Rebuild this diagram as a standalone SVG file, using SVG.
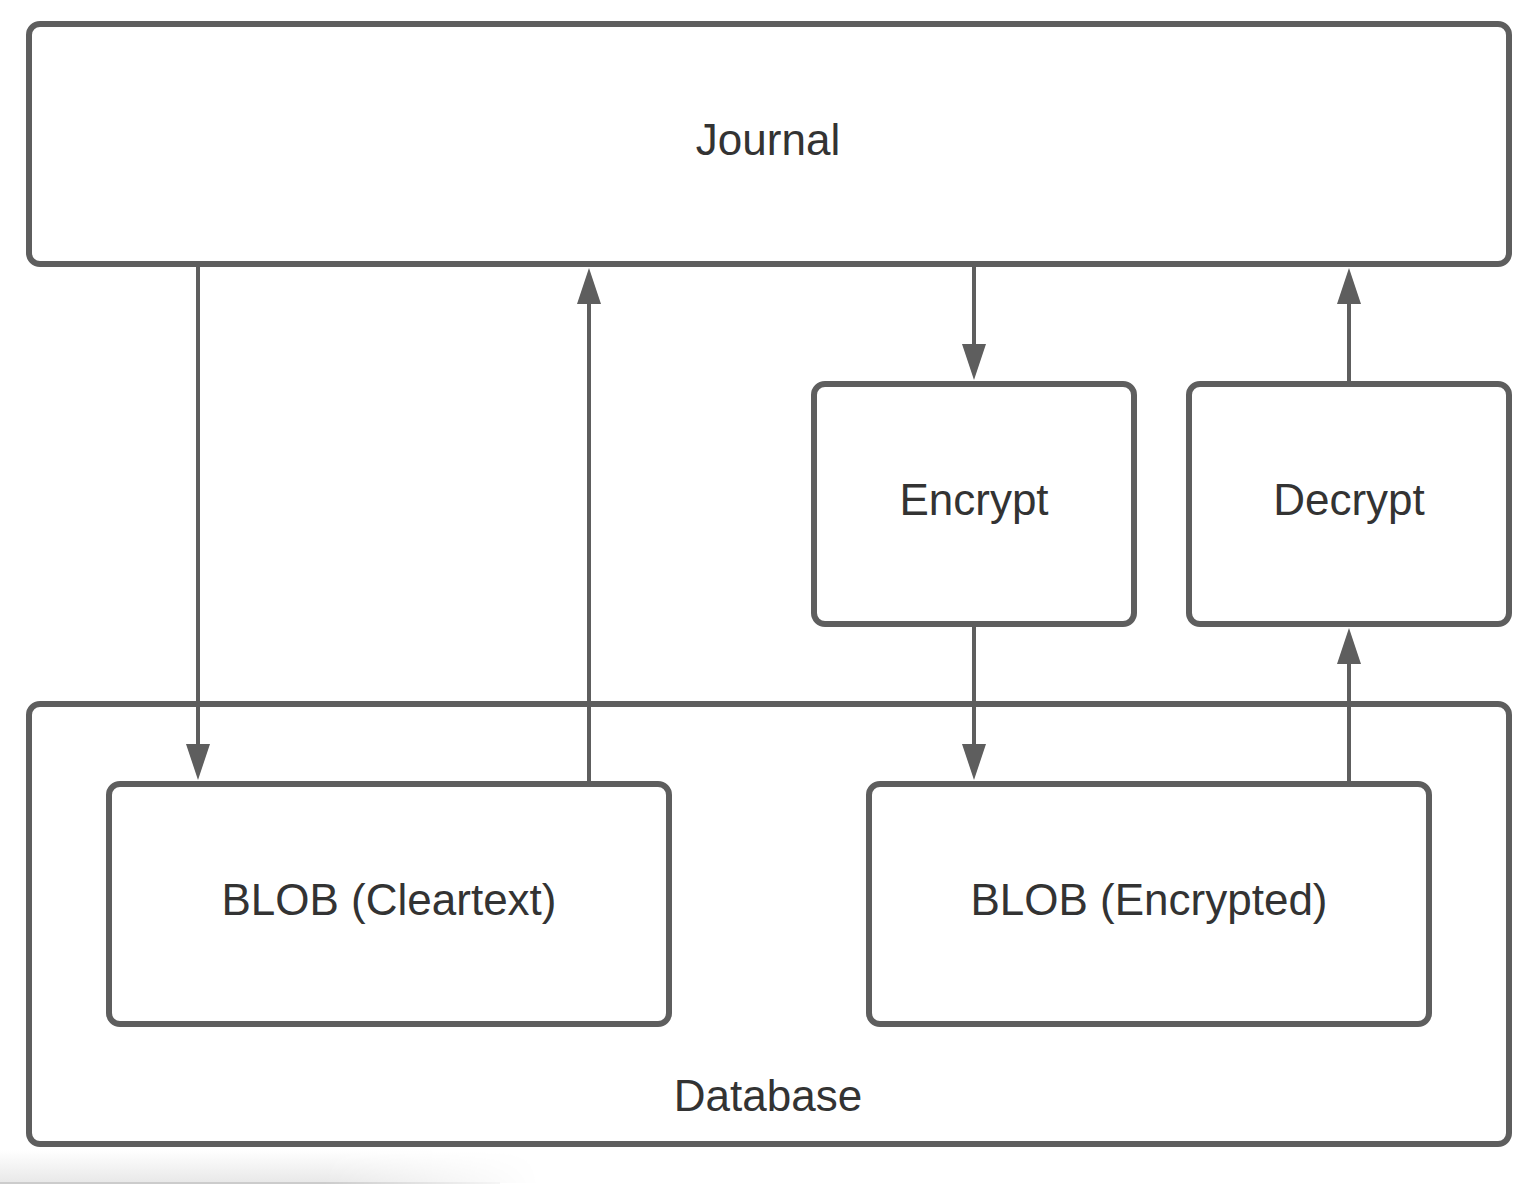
<svg xmlns="http://www.w3.org/2000/svg" width="1526" height="1184" viewBox="0 0 1526 1184">
  <style>
    .box { fill: #ffffff; stroke: #5e5e5e; stroke-width: 6; }
    .lbl { font-family: "Liberation Sans", Arial, sans-serif; font-size: 44px; fill: #333333; text-anchor: middle; }
    .conn { fill: none; stroke: #5e5e5e; stroke-width: 4; marker-end: url(#arrow); }
  </style>
  <defs>
    <marker id="arrow" markerUnits="userSpaceOnUse" markerWidth="37" markerHeight="25" refX="0" refY="12" orient="auto">
      <path d="M0,0 L36,12 L0,24 Z" fill="#5e5e5e"/>
    </marker>
    <linearGradient id="shadeV" x1="0" y1="0" x2="0" y2="1">
      <stop offset="0" stop-color="#ffffff"/>
      <stop offset="1" stop-color="#e8e8e8"/>
    </linearGradient>
    <linearGradient id="fadeH" x1="0" y1="0" x2="1" y2="0">
      <stop offset="0" stop-color="#ffffff"/>
      <stop offset="0.6" stop-color="#ffffff"/>
      <stop offset="1" stop-color="#000000"/>
    </linearGradient>
    <mask id="fadeMask" maskUnits="userSpaceOnUse" x="0" y="1148" width="540" height="36">
      <rect x="0" y="1148" width="540" height="36" fill="url(#fadeH)"/>
    </mask>
  </defs>
  <rect x="0" y="0" width="1526" height="1184" fill="#ffffff"/>
  <g id="screen-shadow" mask="url(#fadeMask)">
    <rect x="0" y="1150" width="540" height="33" fill="url(#shadeV)"/>
    <rect x="0" y="1182" width="500" height="2" fill="#cccccc"/>
  </g>

  <g id="database">
    <rect class="box" x="29" y="704" width="1480" height="440" rx="11"/>
    <text class="lbl" x="768" y="1111">Database</text>
  </g>
  <g id="journal">
    <rect class="box" x="29" y="24" width="1480" height="240" rx="11"/>
    <text class="lbl" x="768" y="155">Journal</text>
  </g>
  <g id="encrypt">
    <rect class="box" x="814" y="384" width="320" height="240" rx="11"/>
    <text class="lbl" x="974" y="515">Encrypt</text>
  </g>
  <g id="decrypt">
    <rect class="box" x="1189" y="384" width="320" height="240" rx="11"/>
    <text class="lbl" x="1349" y="515">Decrypt</text>
  </g>
  <g id="blob-cleartext">
    <rect class="box" x="109" y="784" width="560" height="240" rx="11"/>
    <text class="lbl" x="389" y="915">BLOB (Cleartext)</text>
  </g>
  <g id="blob-encrypted">
    <rect class="box" x="869" y="784" width="560" height="240" rx="11"/>
    <text class="lbl" x="1149" y="915">BLOB (Encrypted)</text>
  </g>

  <g id="connectors">
    <path class="conn" d="M198,266 L198,744"/>
    <path class="conn" d="M589,781 L589,304"/>
    <path class="conn" d="M974,266 L974,344"/>
    <path class="conn" d="M1349,381 L1349,304"/>
    <path class="conn" d="M974,626 L974,744"/>
    <path class="conn" d="M1349,781 L1349,664"/>
  </g>
</svg>
